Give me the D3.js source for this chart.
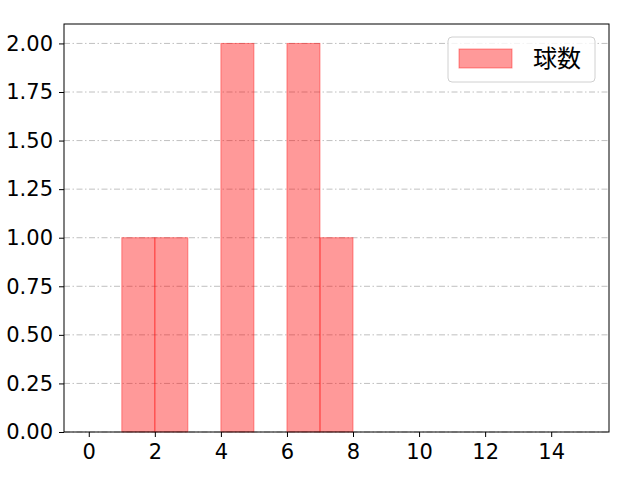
<!DOCTYPE html>
<html>
<head>
<meta charset="utf-8">
<script src="https://cdn.jsdelivr.net/npm/d3@7"></script>
<style>
  body { margin: 0; background: #fff; }
  svg text { font-family: "DejaVu Sans", "Noto Sans CJK JP", sans-serif; }
</style>
</head>
<body>
<div id="chart"></div>
<script>
// bins of width 1, left edges
const binStarts = [1, 2, 4, 6, 7];
const counts = [1, 1, 2, 2, 1];
const xTicks = [0, 2, 4, 6, 8, 10, 12, 14];
const yTicks = [0, 0.25, 0.5, 0.75, 1.0, 1.25, 1.5, 1.75, 2.0];
const seriesName = '球数';

const width = 640, height = 480;
const margin = { top: 24, right: 31, bottom: 48, left: 64 };
const w = width - margin.left - margin.right;
const h = height - margin.top - margin.bottom;

const svg = d3.select('#chart').append('svg')
  .attr('width', width)
  .attr('height', height);

const g = svg.append('g')
  .attr('transform', `translate(${margin.left},${margin.top})`);

const x = d3.scaleLinear().domain([-0.75, 15.75]).range([0, w]);
const y = d3.scaleLinear().domain([0, 2.1]).range([h, 0]);

// grid lines (dash-dot)
g.append('g')
  .selectAll('line')
  .data(yTicks)
  .enter()
  .append('line')
  .attr('x1', 0).attr('x2', w)
  .attr('y1', d => y(d)).attr('y2', d => y(d))
  .attr('stroke', '#b0b0b0')
  .attr('stroke-width', 0.8)
  .attr('stroke-dasharray', '6,2.5,1.5,2.5');

// bars
g.append('g')
  .selectAll('rect')
  .data(binStarts.map((s, i) => ({ x0: s, x1: s + 1, v: counts[i] })))
  .enter()
  .append('rect')
  .attr('x', d => x(d.x0))
  .attr('width', d => x(d.x1) - x(d.x0))
  .attr('y', d => y(d.v))
  .attr('height', d => y(0) - y(d.v))
  .attr('fill', 'rgba(255,0,0,0.4)')
  .attr('stroke', 'rgba(255,0,0,0.4)')
  .attr('stroke-width', 1);

// axes
const xAxis = g.append('g')
  .attr('transform', `translate(0,${h})`)
  .call(d3.axisBottom(x).tickValues(xTicks).tickSize(5).tickPadding(7).tickFormat(d3.format('d')));

const yAxis = g.append('g')
  .call(d3.axisLeft(y).tickValues(yTicks).tickSize(5).tickPadding(6).tickFormat(d3.format('.2f')));

[xAxis, yAxis].forEach(a => {
  a.select('.domain').remove();
  a.selectAll('text').style('font-size', '21px').attr('fill', '#000');
  a.selectAll('line').attr('stroke', '#000').attr('stroke-width', 1);
});

// frame
g.append('rect')
  .attr('width', w).attr('height', h)
  .attr('fill', 'none')
  .attr('stroke', '#000')
  .attr('stroke-width', 1);

// legend
const lg = g.append('g').attr('transform', `translate(${w - 161},${13})`);
lg.append('rect')
  .attr('width', 147).attr('height', 45)
  .attr('rx', 4)
  .attr('fill', '#fff')
  .attr('fill-opacity', 0.8)
  .attr('stroke', '#d0d0d0');
lg.append('rect')
  .attr('x', 11).attr('y', 12)
  .attr('width', 53).attr('height', 19)
  .attr('fill', 'rgba(255,0,0,0.4)')
  .attr('stroke', 'rgba(255,0,0,0.4)');
lg.append('text')
  .attr('x', 85).attr('y', 22)
  .attr('dy', '0.35em')
  .style('font-family', '"Noto Sans CJK JP", sans-serif')
  .style('font-size', '24px')
  .text(seriesName);
</script>
</body>
</html>
